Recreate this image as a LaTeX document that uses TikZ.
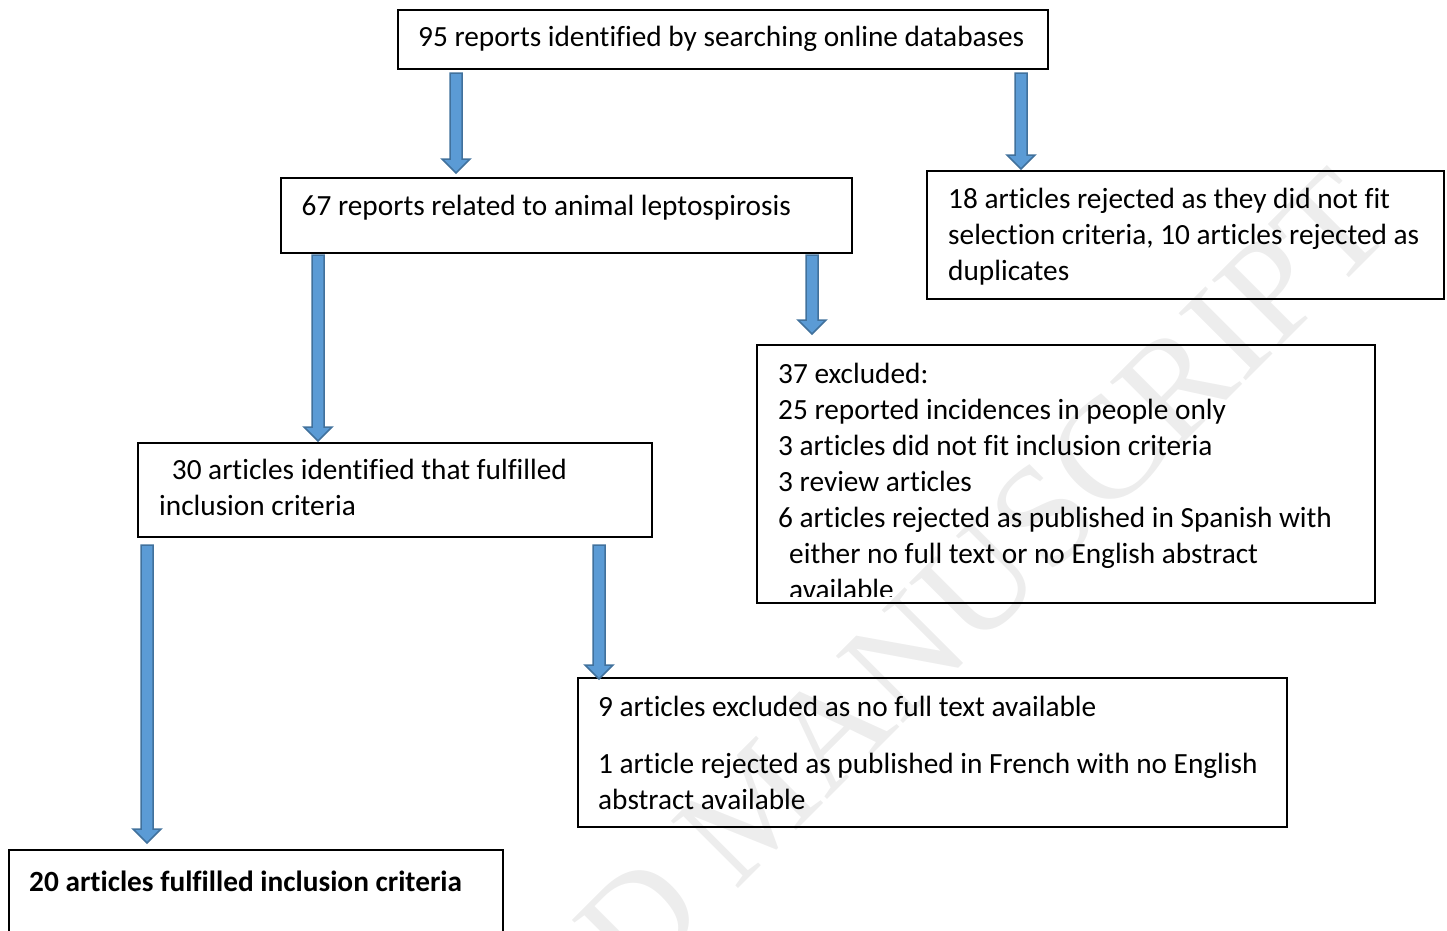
\documentclass[tikz,border=0pt]{standalone}
\usepackage{fontspec}
\setmainfont{Carlito}[Ligatures=NoCommon]
\newfontfamily\markfont{Liberation Serif}
\usepackage{tikz}
\usetikzlibrary{calc}
\definecolor{ArrowBlue}{HTML}{5B9BD5}
\definecolor{ArrowEdge}{HTML}{41719C}
\definecolor{Stamp}{HTML}{EDEDED}

\tikzset{
  box/.style={draw=black,line width=2pt,fill=none,inner sep=0pt,anchor=north west},
  txt/.style={anchor=base west,inner sep=0pt,align=left,font=\fontsize{29.3}{36}\selectfont},
  blockarrow/.style={draw=ArrowEdge,fill=ArrowBlue,line width=1.5pt,line join=miter,
    to path={let \p1=(\tikztostart),\p2=(\tikztotarget) in
      (\x1-6pt,\y1) -- (\x1+6pt,\y1) -- (\x1+6pt,\y2+14pt) -- (\x1+14pt,\y2+14pt)
      -- (\x2,\y2) -- (\x1-14pt,\y2+14pt) -- (\x1-6pt,\y2+14pt) -- cycle}}
}

\begin{document}
\begin{tikzpicture}[x=1pt,y=-1pt]
  \useasboundingbox (0,0) rectangle (1447,930);
  \clip (0,0) rectangle (1447,930);

  \node[rotate=45,text=Stamp,inner sep=0pt,font=\markfont\fontsize{145}{145}\selectfont] (stamp) at (755,805) {ACCEPTED MANUSCRIPT};

  % boxes
  \node[box,minimum width=650,minimum height=59] (search) at (397,9) {};
  \node[box,minimum width=571,minimum height=75] (related) at (280,177) {};
  \node[box,minimum width=517,minimum height=128] (rejected) at (926,170) {};
  \node[box,minimum width=618,minimum height=258] (excluded) at (756,344) {};
  \node[box,minimum width=514,minimum height=94] (fulfilled) at (137,442) {};
  \node[box,minimum width=709,minimum height=149] (notext) at (577,677) {};
  \node[box,minimum width=494,minimum height=120] (final) at (8,849) {};

  % texts (placed at the baseline of their last line)
  \node[txt] (searchtext) at (418,46.7) {95 reports identified by searching online databases};
  \node[txt] (relatedtext) at (301.5,215) {67 reports related to animal leptospirosis};
  \node[txt] (rejectedtext) at (948,280.3) {18 articles rejected as they did not fit\\
    selection criteria, 10 articles rejected as\\duplicates};
  \begin{scope}
    \clip (excluded.north west) rectangle ($(excluded.south east)+(0,-8)$);
    \node[txt] (excludedtext) at (778,599.3) {37 excluded:\\
      25 reported incidences in people only\\
      3 articles did not fit inclusion criteria\\
      3 review articles\\
      6 articles rejected as published in Spanish with\\
      \hspace*{11pt}either no full text or no English abstract\\
      \hspace*{11pt}available};
  \end{scope}
  \node[txt] (fulfilledtext) at (159,515.3) {\hspace*{12.7pt}30 articles identified that fulfilled\\
    inclusion criteria};
  \node[txt] (notexttext) at (598,809.7) {9 articles excluded as no full text available\\[21pt]
    1 article rejected as published in French with no English\\abstract available};
  \node[txt,font=\fontsize{29.3}{36}\selectfont\bfseries] (finaltext) at (29,891) {20 articles fulfilled inclusion criteria};

  % arrows
  \coordinate (a1s) at (456,73);   \coordinate (a1e) at (456,173);
  \coordinate (a2s) at (1021,73);  \coordinate (a2e) at (1021,169);
  \coordinate (a3s) at (318,255);  \coordinate (a3e) at (318,441);
  \coordinate (a4s) at (812,255);  \coordinate (a4e) at (812,334);
  \coordinate (a5s) at (147,545);  \coordinate (a5e) at (147,843);
  \coordinate (a6s) at (599,545);  \coordinate (a6e) at (599,679);
  \draw[blockarrow] (a1s) to (a1e);
  \draw[blockarrow] (a2s) to (a2e);
  \draw[blockarrow] (a3s) to (a3e);
  \draw[blockarrow] (a4s) to (a4e);
  \draw[blockarrow] (a5s) to (a5e);
  \draw[blockarrow] (a6s) to (a6e);
\end{tikzpicture}
\end{document}
